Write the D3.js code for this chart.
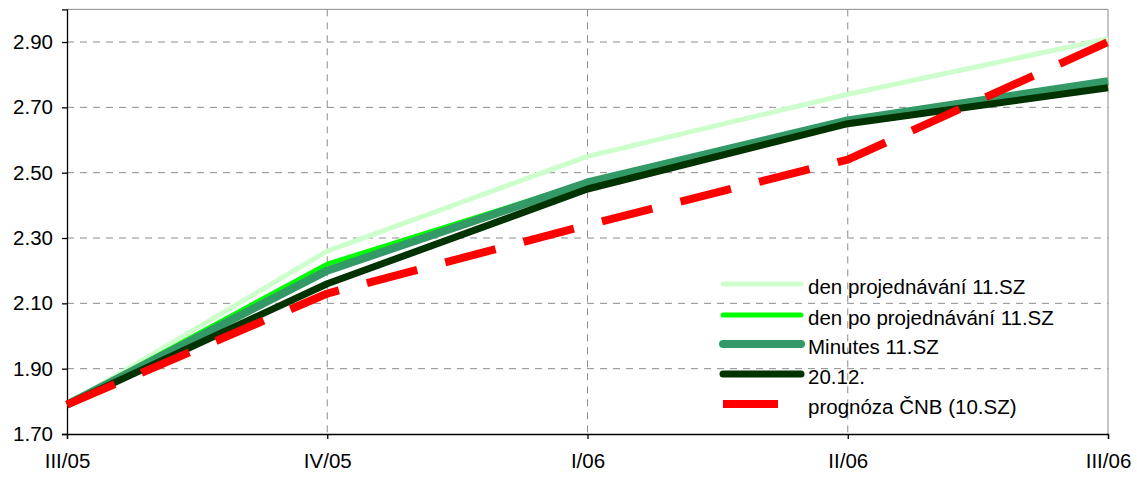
<!DOCTYPE html>
<html lang="cs">
<head>
<meta charset="UTF-8">
<title>Chart</title>
<script src="https://cdn.jsdelivr.net/npm/d3@7"></script>
<style>
  * { margin: 0; padding: 0; }
  body { background: #fff; }
  text { font-family: "Liberation Sans", Arial, sans-serif; }
</style>
</head>
<body>
<svg id="chart" width="1137" height="477"></svg>
<script>
// data
var categories = ["III/05", "IV/05", "I/06", "II/06", "III/06"];
var yTicks = [1.70, 1.90, 2.10, 2.30, 2.50, 2.70, 2.90];
var denProjednavani = [1.79, 2.26, 2.55, 2.74, 2.91];
var denPoProjednavani = [1.79, 2.22, 2.47, 2.66, 2.78];
var minutes = [1.79, 2.20, 2.47, 2.66, 2.78];
var d2012 = [1.79, 2.16, 2.45, 2.65, 2.76];
var prognoza = [1.79, 2.13, 2.34, 2.54, 2.90];

var series = [
  { name: "den projednávání 11.SZ", values: denProjednavani, color: "#ccffcc", width: 5 },
  { name: "den po projednávání 11.SZ", values: denPoProjednavani, color: "#00ff00", width: 5 },
  { name: "Minutes 11.SZ", values: minutes, color: "#339966", width: 8 },
  { name: "20.12.", values: d2012, color: "#003300", width: 7 },
  { name: "prognóza ČNB (10.SZ)", values: prognoza, color: "#ff0000", width: 8, dash: "52,29" }
];

var svg = d3.select("#chart");
var left = 67, right = 1108, bottom = 434;
var plotTop = bottom - (3.0 - 1.7) / 0.2 * 65.33;

var x = d3.scalePoint().domain(categories).range([left, right]).padding(0);
var y = d3.scaleLinear().domain([1.7, 3.0]).range([bottom, plotTop]);

// grid
svg.append("g").selectAll("line.h")
  .data(yTicks.slice(1))
  .enter().append("line")
  .attr("x1", left).attr("x2", right)
  .attr("y1", d => y(d)).attr("y2", d => y(d))
  .attr("stroke", "#8c8c8c").attr("stroke-width", 1)
  .attr("stroke-dasharray", "7,6");

svg.append("g").selectAll("line.v")
  .data(categories.slice(1, -1))
  .enter().append("line")
  .attr("x1", d => x(d)).attr("x2", d => x(d))
  .attr("y1", plotTop).attr("y2", bottom)
  .attr("stroke", "#8c8c8c").attr("stroke-width", 1)
  .attr("stroke-dasharray", "7,6");

// plot border (top + right)
svg.append("path")
  .attr("d", "M" + left + "," + plotTop + "H" + right + "V" + bottom)
  .attr("fill", "none").attr("stroke", "#8c8c8c").attr("stroke-width", 1);

// axes
var yAxis = d3.axisLeft(y).tickValues(yTicks).tickFormat(d3.format(".2f")).tickSize(5).tickPadding(9);
var gy = svg.append("g").attr("transform", "translate(" + left + ",0)").call(yAxis);
var xAxis = d3.axisBottom(x).tickSize(5).tickPadding(14);
var gx = svg.append("g").attr("transform", "translate(0," + bottom + ")").call(xAxis);

[gy, gx].forEach(function (g) {
  g.select(".domain").attr("stroke", "#000").attr("stroke-width", 1.3);
  g.selectAll(".tick line").attr("stroke", "#000").attr("stroke-width", 1.3);
  g.selectAll(".tick text").attr("font-size", 20.5).attr("fill", "#000")
    .attr("font-family", "'Liberation Sans', Arial, sans-serif");
});

// lines
var line = d3.line()
  .x((d, i) => x(categories[i]))
  .y(d => y(d));

svg.append("g").selectAll("path")
  .data(series)
  .enter().append("path")
  .attr("d", d => line(d.values))
  .attr("fill", "none")
  .attr("stroke", d => d.color)
  .attr("stroke-width", d => d.width)
  .attr("stroke-linejoin", "round")
  .attr("stroke-dasharray", d => d.dash || null);

// legend
var legendRows = [284, 315, 344, 374, 404];
var lg = svg.append("g").selectAll("g")
  .data(series)
  .enter().append("g")
  .attr("transform", (d, i) => "translate(0," + legendRows[i] + ")");

lg.append("line")
  .attr("x1", 723)
  .attr("x2", d => d.dash ? 778 : 801)
  .attr("y1", 0).attr("y2", 0)
  .attr("stroke", d => d.color)
  .attr("stroke-width", d => d.width)
  .attr("stroke-linecap", d => d.dash ? "butt" : "round");

lg.append("text")
  .attr("x", 808)
  .attr("y", 2)
  .attr("dominant-baseline", "central")
  .attr("font-size", 20.5)
  .text(d => d.name);
</script>
</body>
</html>
